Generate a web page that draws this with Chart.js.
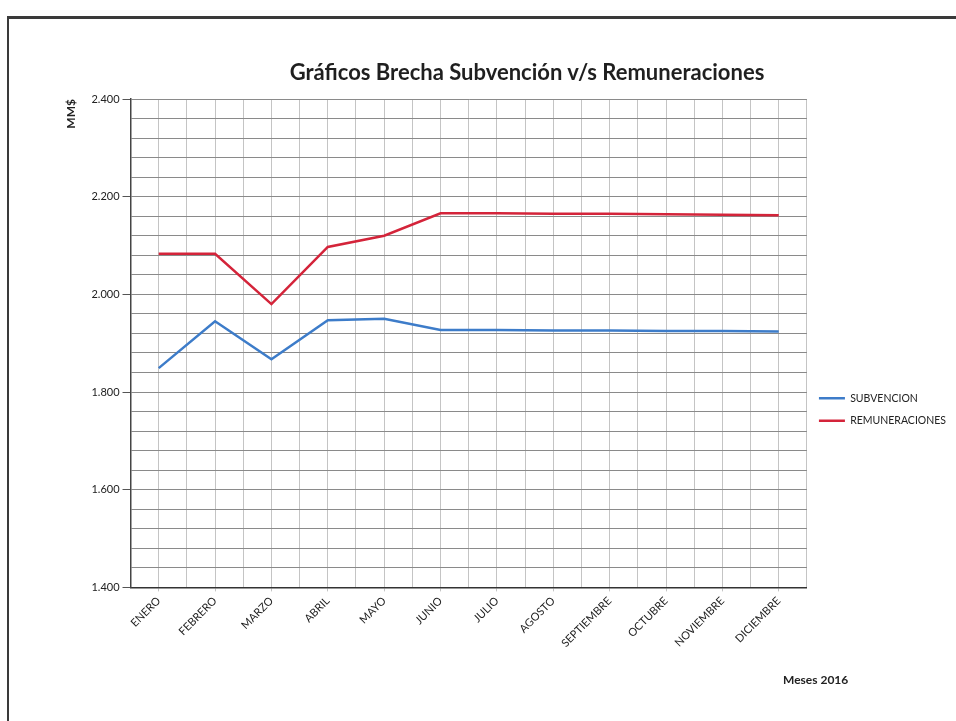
<!DOCTYPE html>
<html lang="es">
<head>
  <meta charset="UTF-8" />
  <title>Gráficos Brecha Subvención v/s Remuneraciones</title>
  <script src="https://cdn.jsdelivr.net/npm/chart.js"></script>
  <style>
    body {
      margin: 0;
      background: #ffffff;
      font-family: Lato, sans-serif;
      overflow: hidden;
    }
    .wrap {
      position: absolute;
      left: 0;
      top: 0;
      width: 956px;
      height: 721px;
    }
    .frame {
      position: absolute;
      left: 7px;
      top: 16px;
      width: 960px;
      height: 720px;
      border-top: 3px solid #3a3a3a;
      border-left: 2px solid #3a3a3a;
      pointer-events: none;
    }
    .title {
      position: absolute;
      left: 527px;
      top: 59px;
      transform: translateX(-50%);
      white-space: nowrap;
      font-size: 22px;
      line-height: 26px;
      font-weight: bold;
      color: #1f1f1f;
    }
    .xtitle {
      position: absolute;
      left: 783px;
      top: 673px;
      font-size: 12px;
      line-height: 14px;
      font-weight: bold;
      color: #222;
    }
  </style>
</head>
<body>
  <div class="wrap">
    <canvas id="brechaChart" width="956" height="721"></canvas>
  </div>
  <div class="frame"></div>
  <div class="title">Gráficos Brecha Subvención v/s Remuneraciones</div>
  <div class="xtitle">Meses 2016</div>

  <script>
    const meses = ['ENERO', 'FEBRERO', 'MARZO', 'ABRIL', 'MAYO', 'JUNIO',
      'JULIO', 'AGOSTO', 'SEPTIEMBRE', 'OCTUBRE', 'NOVIEMBRE', 'DICIEMBRE'];

    const subvencion = [1849, 1945, 1867, 1947, 1950, 1927, 1927, 1926, 1926, 1925, 1925, 1924];
    const remuneraciones = [2083, 2083, 1980, 2097, 2120, 2166, 2166, 2165, 2165, 2164, 2163, 2162];

    const yMin = 1400;
    const yMax = 2400;
    const yMajor = 200;
    const yMinor = 40;

    const fmt = v => v.toLocaleString('de-DE');

    const chart = new Chart(document.getElementById('brechaChart'), {
      type: 'line',
      data: {
        labels: meses,
        datasets: [
          { label: 'SUBVENCION', data: subvencion, borderColor: '#3d7cc9', backgroundColor: '#3d7cc9', borderWidth: 2.5, pointRadius: 0, tension: 0 },
          { label: 'REMUNERACIONES', data: remuneraciones, borderColor: '#d4243a', backgroundColor: '#d4243a', borderWidth: 2.5, pointRadius: 0, tension: 0 }
        ]
      },
      options: {
        responsive: false,
        animation: false,
        layout: { padding: { left: 64, right: 0, top: 99, bottom: 68 } },
        plugins: {
          title: { display: false },
          legend: {
            position: 'right',
            align: 'start',
            title: {
              display: true,
              text: '',
              font: { size: 10 },
              padding: { top: 270, bottom: 0 }
            },
            labels: {
              usePointStyle: true,
              pointStyle: 'line',
              pointStyleWidth: 26,
              color: '#222',
              padding: 12,
              font: { family: 'Lato', size: 10.5 }
            }
          },
          tooltip: { enabled: false }
        },
        scales: {
          x: {
            offset: true,
            grid: { offset: false, color: '#c4c4c4', tickLength: 4 },
            border: { color: '#333', width: 1.5 },
            ticks: {
              minRotation: 45,
              maxRotation: 45,
              autoSkip: false,
              color: '#222',
              font: { family: 'Lato', size: 11 }
            }
          },
          x2: {
            type: 'category',
            labels: meses,
            position: 'top',
            offset: true,
            grid: { offset: true, color: '#c4c4c4', drawTicks: false },
            border: { display: false },
            ticks: { display: false }
          },
          y: {
            min: yMin,
            max: yMax,
            grid: {
              color: '#8a8a8a',
              tickLength: 8,
              tickColor: ctx => (ctx.tick && ctx.tick.value % yMajor === 0) ? '#555' : 'rgba(0,0,0,0)'
            },
            border: { color: '#444', width: 1.5 },
            ticks: {
              stepSize: yMinor,
              autoSkip: false,
              padding: 3,
              color: '#222',
              font: { family: 'Lato', size: 11 },
              callback: v => (v % yMajor === 0 ? fmt(v) : '')
            },
            title: {
              display: true,
              text: 'MM$',
              align: 'end',
              color: '#222',
              font: { family: 'Lato', size: 12, weight: 'bold' },
              padding: { top: 0, bottom: 10 }
            }
          }
        }
      }
    });
  </script>
</body>
</html>
